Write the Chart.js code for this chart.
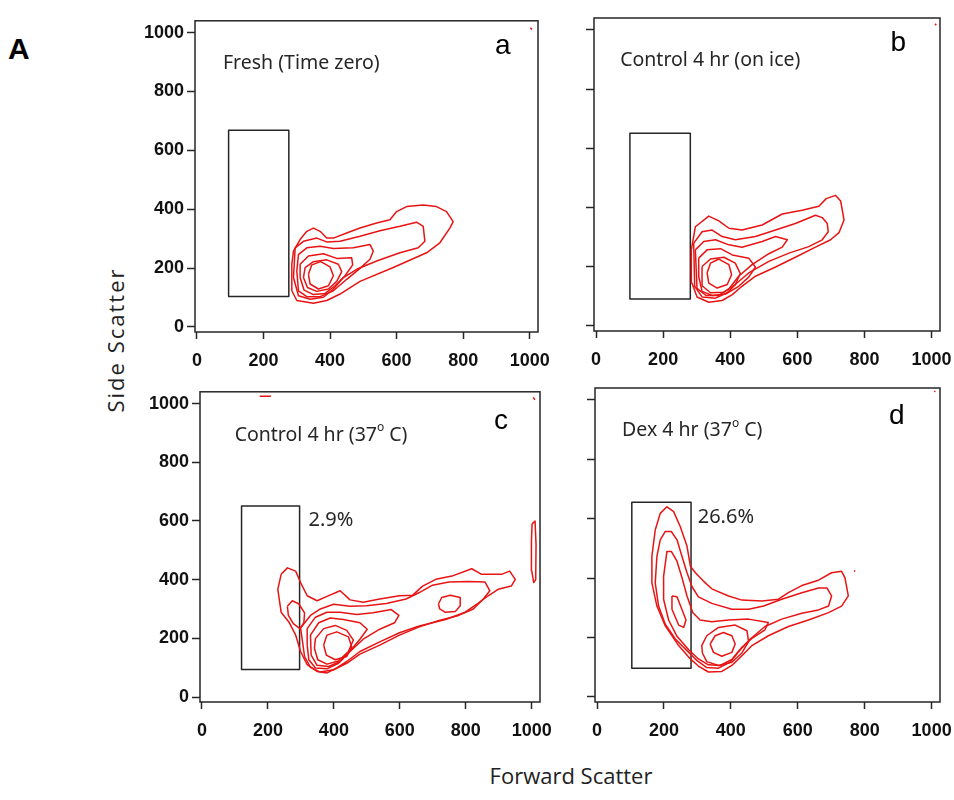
<!DOCTYPE html>
<html>
<head>
<meta charset="utf-8">
<script src="https://cdn.jsdelivr.net/npm/chart.js@4.4.0/dist/chart.umd.min.js"></script>
<style>
  body { margin: 0; background: #fff; width: 954px; height: 800px; position: relative; overflow: hidden; }
  canvas { position: absolute; }
  .lbl { position: absolute; color: #222; white-space: nowrap; }
  #figLabel { left: 8px; top: 34px; font: bold 30px/1 "Liberation Sans", Arial, sans-serif; color: #000; }
  #yTitle { left: 115px; top: 340px; font: 22px/1 "Open Sans", sans-serif; letter-spacing: 2px; transform: translate(-50%, -50%) rotate(-90deg); }
  #xTitle { left: 571px; top: 775px; font: 22px/1 "Open Sans", sans-serif; transform: translate(-50%, -50%); }
</style>
</head>
<body>
<div class="lbl" id="figLabel">A</div>
<div class="lbl" id="yTitle">Side Scatter</div>
<div class="lbl" id="xTitle">Forward Scatter</div>
<canvas id="chartA"></canvas>
<canvas id="chartB"></canvas>
<canvas id="chartC"></canvas>
<canvas id="chartD"></canvas>
<script>
// axis ticks (same on every panel)
const xTicks = [0, 200, 400, 600, 800, 1000];
const yTicks = [0, 200, 400, 600, 800, 1000];

// gates: [xMin, xMax, yMin, yMax]
const gateA = [95, 276, 104, 668];
const gateB = [101, 281, 91, 651];
const gateC = [120, 296, 94, 651];
const gateD = [104, 281, 97, 655];

// percentage inside the gate
const pctC = '2.9%';
const pctD = '26.6%';

// contour lines, [forward scatter, side scatter]
const contoursA = [
  [[285,213],[285,123],[300,90],[350,81],[390,90],[430,112],[490,155],[590,202],[690,252],[730,286],[760,336],[770,358],[750,392],[720,409],[680,414],[630,409],[600,392],[580,364],[540,353],[490,336],[450,319],[410,302],[390,302],[370,325],[350,336],[330,325],[310,297],[290,258]],
  [[290,168],[295,269],[320,291],[360,302],[390,289],[430,291],[490,308],[550,327],[610,342],[660,356],[680,342],[685,291],[665,269],[610,252],[540,224],[480,196],[440,168],[410,129],[380,101],[340,94],[305,106]],
  [[300,190],[305,246],[330,269],[370,274],[410,267],[470,269],[520,280],[530,258],[520,230],[490,199],[450,162],[410,123],[370,103],[330,103],[305,123]],
  [[310,168],[310,213],[335,241],[380,249],[420,233],[465,235],[468,211],[445,174],[415,140],[385,114],[350,110],[322,125]],
  [[320,168],[325,202],[350,222],[390,228],[425,213],[435,188],[420,155],[395,129],[360,121],[332,134]],
  [[335,179],[345,211],[372,222],[400,204],[410,174],[395,140],[365,129],[340,146]]
];
const contoursB = [
  [[284,257],[296,335],[336,371],[366,355],[396,330],[435,324],[495,341],[555,378],[614,391],[664,404],[686,430],[714,441],[729,422],[739,358],[724,315],[699,291],[654,266],[594,232],[535,199],[475,168],[435,134],[406,106],[376,86],[336,80],[301,98],[286,145]],
  [[291,279],[316,318],[346,324],[376,302],[415,291],[475,302],[535,324],[594,346],[654,374],[674,366],[689,346],[692,318],[674,291],[634,268],[575,246],[515,218],[455,179],[420,145],[391,112],[356,94],[316,98],[294,134]],
  [[296,257],[321,285],[356,291],[396,274],[435,266],[495,285],[535,302],[570,291],[555,266],[515,244],[465,207],[425,168],[396,125],[366,103],[328,103],[301,127]],
  [[306,229],[331,257],[371,261],[406,240],[455,229],[475,199],[455,165],[425,134],[386,108],[346,103],[316,117],[306,168]],
  [[316,201],[341,226],[381,232],[415,212],[430,177],[415,140],[381,114],[341,112],[318,134]],
  [[331,179],[341,212],[366,226],[396,207],[404,173],[391,140],[361,128],[336,145]]
];
const contoursC = [
  [[240,418],[259,440],[284,429],[299,390],[319,345],[349,328],[379,343],[419,362],[449,331],[489,323],[539,334],[599,345],[639,347],[669,378],[709,401],[758,412],[818,437],[848,418],[908,418],[933,429],[950,401],[938,378],[898,367],[868,345],[838,320],[798,289],[739,264],[659,242],[599,219],[539,188],[479,155],[439,121],[409,99],[379,82],[349,87],[319,110],[299,155],[284,211],[264,255],[240,289],[230,367]],
  [[305,188],[299,235],[329,278],[359,300],[399,316],[449,309],[499,311],[559,319],[619,334],[659,356],[699,381],[749,392],[808,394],[858,392],[873,362],[853,334],[823,300],[778,278],[719,261],[659,239],[599,211],[539,177],[479,146],[439,115],[399,93],[359,85],[329,101],[311,138]],
  [[259,309],[274,328],[294,317],[311,287],[309,253],[297,233],[277,250],[262,278]],
  [[717,317],[727,339],[753,347],[783,339],[783,311],[768,291],[737,289],[721,300]],
  [[319,177],[319,233],[344,272],[379,289],[419,289],[469,281],[519,287],[574,298],[597,278],[584,253],[539,231],[489,197],[449,155],[414,115],[379,96],[344,99],[324,127]],
  [[331,143],[329,211],[354,253],[389,269],[429,264],[479,253],[501,231],[479,197],[449,157],[419,121],[384,104],[349,108]],
  [[341,166],[344,199],[369,233],[404,244],[439,227],[459,194],[444,155],[414,123],[379,112],[351,127]],
  [[369,177],[379,211],[409,222],[444,205],[454,171],[439,138],[404,127],[377,143]],
  [[1001,590],[1010,600],[1013,520],[1012,400],[1006,390],[1000,430],[999,530]]
];
const contoursD = [
  [[174,562],[189,618],[209,640],[229,624],[249,573],[269,507],[279,440],[294,418],[318,390],[343,364],[393,340],[433,326],[493,323],[542,329],[572,351],[612,375],[662,393],[701,418],[731,423],[741,401],[751,340],[731,306],[692,284],[632,259],[572,237],[512,206],[463,173],[433,139],[403,106],[373,86],[333,84],[303,104],[279,128],[244,173],[204,239],[179,306],[164,384],[164,473]],
  [[189,529],[204,557],[222,557],[239,529],[254,473],[269,418],[284,371],[303,337],[343,315],[403,295],[453,295],[498,306],[552,329],[612,351],[662,367],[687,367],[701,340],[692,306],[662,293],[612,282],[552,262],[502,237],[458,195],[428,159],[398,117],[363,97],[328,99],[299,122],[269,156],[234,195],[204,245],[184,306],[174,384],[179,473]],
  [[199,406],[209,490],[222,490],[239,457],[254,401],[269,340],[286,284],[308,259],[343,253],[393,259],[453,262],[512,251],[502,226],[463,197],[433,167],[403,126],[368,106],[333,108],[303,128],[274,159],[239,204],[214,259],[199,329]],
  [[224,340],[239,337],[266,259],[259,234],[244,242],[224,295]],
  [[315,148],[313,173],[328,206],[363,234],[413,242],[448,223],[453,186],[433,148],[403,117],[363,106],[328,119]],
  [[338,178],[353,206],[378,217],[403,206],[413,178],[403,150],[373,137],[348,150]]
];

// stray events near the axis limits (open strokes)
const specksA = [[[1002,1016],[1007,1011]]];
const specksB = [[[1010,1020],[1014,1016]]];
const specksC = [[[175,1025],[209,1025]], [[1004,1021],[1010,1013]]];
const specksD = [[[768,423],[772,425]], [[1008,1030],[1011,1027]]];

const panels = [
  { id: 'chartA', area: [195, 17, 343, 315], yLabels: true, letter: 'a', letterAt: [919, 953],
    title: ['Fresh (Time zero)'], titleAt: [78, 896], contours: contoursA, specks: specksA, gate: gateA },
  { id: 'chartB', area: [594, 18, 346, 313], yLabels: false, letter: 'b', letterAt: [901, 955],
    title: ['Control 4 hr (on ice)'], titleAt: [72, 896], contours: contoursB, specks: specksB, gate: gateB },
  { id: 'chartC', area: [200, 388, 340, 314], yLabels: true, letter: 'c', letterAt: [907, 938],
    title: ['Control 4 hr (37', 'o', ' C)'], titleAt: [99, 893], contours: contoursC, specks: specksC, gate: gateC,
    pct: pctC, pctAt: [323, 601] },
  { id: 'chartD', area: [595, 388, 345, 314], yLabels: false, letter: 'd', letterAt: [896, 946],
    title: ['Dex 4 hr (37', 'o', ' C)'], titleAt: [75, 896], contours: contoursD, specks: specksD, gate: gateD,
    pct: pctD, pctAt: [301, 605] }
];

const RED = 'rgb(232, 20, 20)';
const INK = '#262626';
const AXIS_W = 60, XAXIS_H = 45, PAD_T = 10, PAD_R = 25;

function toPts(list, close) {
  const pts = list.map(([x, y]) => ({ x, y }));
  if (close) pts.push({ ...pts[0] });
  return pts;
}

function makeOverlay(p) {
  return {
    id: 'overlay',
    afterDatasetsDraw(chart) {
      const { ctx, chartArea: ca, scales: { x, y } } = chart;
      ctx.save();
      ctx.strokeStyle = INK;
      ctx.lineWidth = 1.5;
      ctx.strokeRect(ca.left, ca.top, ca.width, ca.height);

      ctx.fillStyle = INK;
      ctx.textBaseline = 'middle';
      ctx.textAlign = 'left';
      let tx = x.getPixelForValue(p.titleAt[0]);
      const ty = y.getPixelForValue(p.titleAt[1]);
      p.title.forEach((seg, i) => {
        const sup = i % 2 === 1;
        ctx.font = sup ? '12px "Noto Sans"' : '19.5px "Noto Sans"';
        ctx.fillText(seg, tx, sup ? ty - 7 : ty);
        tx += ctx.measureText(seg).width;
      });

      if (p.pct) {
        ctx.font = '20px "Noto Sans"';
        ctx.fillText(p.pct, x.getPixelForValue(p.pctAt[0]), y.getPixelForValue(p.pctAt[1]));
      }

      ctx.fillStyle = '#000';
      ctx.textAlign = 'center';
      ctx.font = '28px "Liberation Sans", Arial, sans-serif';
      ctx.fillText(p.letter, x.getPixelForValue(p.letterAt[0]), y.getPixelForValue(p.letterAt[1]));
      ctx.restore();
    }
  };
}

panels.forEach(p => {
  const [left, top, w, h] = p.area;
  const canvas = document.getElementById(p.id);
  canvas.width = w + AXIS_W + PAD_R;
  canvas.height = h + PAD_T + XAXIS_H;
  canvas.style.left = (left - AXIS_W) + 'px';
  canvas.style.top = (top - PAD_T) + 'px';

  const line = { showLine: true, pointRadius: 0, fill: false, tension: 0, borderJoinStyle: 'round' };
  const datasets = [];
  p.contours.forEach(c => datasets.push({ ...line, data: toPts(c, true), borderColor: RED, borderWidth: 1.5 }));
  p.specks.forEach(s => datasets.push({ ...line, data: toPts(s, false), borderColor: RED, borderWidth: 1.5 }));
  const [gx0, gx1, gy0, gy1] = p.gate;
  datasets.push({ ...line, data: toPts([[gx0, gy0], [gx1, gy0], [gx1, gy1], [gx0, gy1]], true), borderColor: INK, borderWidth: 1.5 });

  const tickFont = { family: '"Liberation Sans", Arial, sans-serif', size: 18, weight: 'bold' };

  new Chart(canvas, {
    type: 'scatter',
    data: { datasets },
    options: {
      responsive: false,
      animation: false,
      events: [],
      layout: { padding: { left: 0, top: PAD_T, right: PAD_R, bottom: 0 } },
      plugins: { legend: { display: false }, tooltip: { enabled: false } },
      scales: {
        x: {
          type: 'linear', min: -6, max: 1025,
          afterBuildTicks: s => { s.ticks = xTicks.map(v => ({ value: v })); },
          afterFit: s => { s.height = XAXIS_H; },
          grid: { drawOnChartArea: false, tickLength: 7, tickColor: INK, tickWidth: 1.5 },
          border: { display: false },
          ticks: { color: '#111', font: tickFont, padding: 11, maxRotation: 0, autoSkip: false, callback: v => String(v) }
        },
        y: {
          type: 'linear', min: -17, max: 1040,
          afterBuildTicks: s => { s.ticks = yTicks.map(v => ({ value: v })); },
          afterFit: s => { s.width = AXIS_W; },
          grid: { drawOnChartArea: false, tickLength: 8, tickColor: INK, tickWidth: 1.5 },
          border: { display: false },
          ticks: { display: p.yLabels, color: '#111', font: tickFont, padding: 3, autoSkip: false, callback: v => String(v) }
        }
      }
    },
    plugins: [makeOverlay(p)]
  });
});
</script>
</body>
</html>
